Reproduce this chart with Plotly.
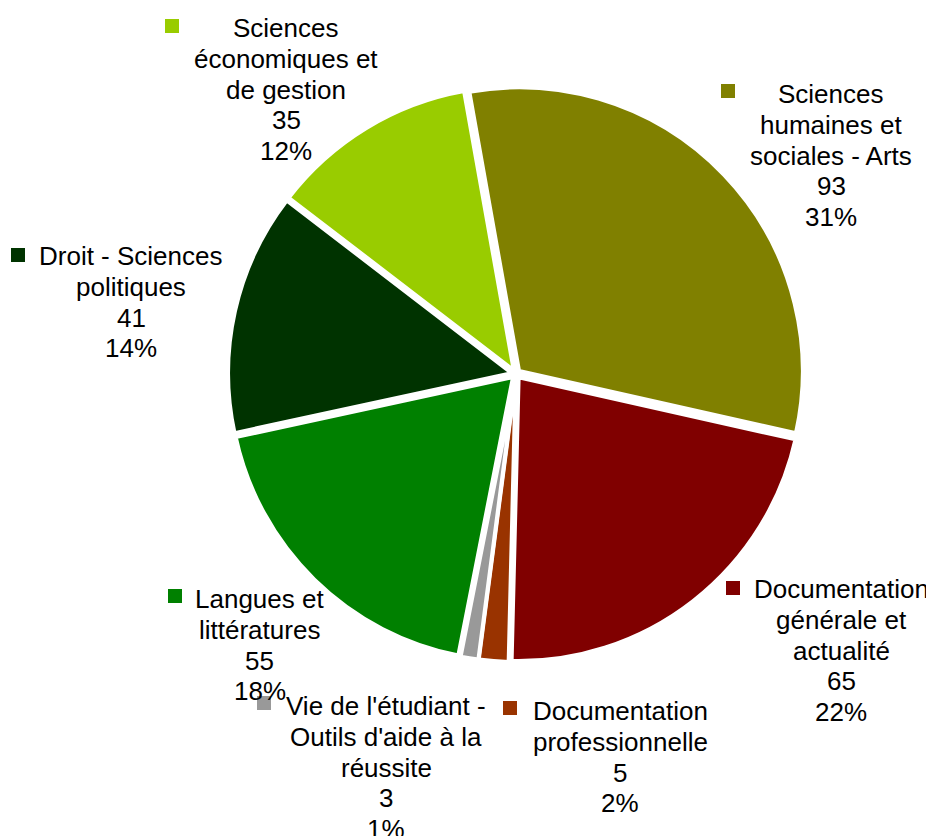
import plotly.graph_objects as go

# ---- data ----
categories = [
    "Sciences humaines et sociales - Arts",
    "Documentation générale et actualité",
    "Documentation professionnelle",
    "Vie de l'étudiant - Outils d'aide à la réussite",
    "Langues et littératures",
    "Droit - Sciences politiques",
    "Sciences économiques et de gestion",
]
values = [93, 65, 5, 3, 55, 41, 35]
pct_labels = ["31%", "22%", "2%", "1%", "18%", "14%", "12%"]

# ---- styling / layout ----
colors = ["#808000", "#800000", "#993300", "#999999", "#008000", "#003300", "#99CC00"]
wrapped = [
    ["Sciences", "humaines et", "sociales - Arts"],
    ["Documentation", "générale et", "actualité"],
    ["Documentation", "professionnelle"],
    ["Vie de l'étudiant -", "Outils d'aide à la", "réussite"],
    ["Langues et", "littératures"],
    ["Droit - Sciences", "politiques"],
    ["Sciences", "économiques et", "de gestion"],
]
# label block: (center x px, first line y px), legend key center (px) in window coords
label_pos = [(831, 94), (841, 589), (620, 711), (386, 706), (260, 599), (131, 256), (286, 28)]
key_pos = [(728, 91), (733, 588), (510, 708), (264, 703), (175, 596), (18, 255), (172, 26)]

W, H = 934, 836
OFF = 8  # page body margin
LINE = 30.8
FONT = dict(family="Liberation Sans, Arial, sans-serif", size=26, color="#000000")
KEY = 14


def px_x(x):
    return (x - OFF) / W


def px_y(y):
    return 1 - (y - OFF) / H


cx, cy, half = 516, 374, 288

fig = go.Figure(go.Pie(
    labels=categories,
    values=values,
    marker=dict(colors=colors, line=dict(color="white", width=4)),
    sort=False,
    direction="clockwise",
    rotation=-10.1,
    pull=[0.015] * len(values),
    textinfo="none",
    hoverinfo="label+value+percent",
    showlegend=False,
    domain=dict(x=[px_x(cx - half), px_x(cx + half)],
                y=[px_y(cy + half), px_y(cy - half)]),
))

annotations = []
shapes = []
for i, cat in enumerate(categories):
    lines = wrapped[i] + [str(values[i]), pct_labels[i]]
    x0, y0 = label_pos[i]
    for j, t in enumerate(lines):
        annotations.append(dict(
            x=px_x(x0), y=px_y(y0 + j * LINE), xref="paper", yref="paper",
            text=t, showarrow=False, xanchor="center", yanchor="middle",
            font=FONT,
        ))
    kx, ky = key_pos[i]
    shapes.append(dict(
        type="rect", xref="paper", yref="paper",
        x0=px_x(kx - KEY / 2), x1=px_x(kx + KEY / 2),
        y0=px_y(ky + KEY / 2), y1=px_y(ky - KEY / 2),
        fillcolor=colors[i], line=dict(width=0),
    ))

fig.update_layout(
    width=W, height=H,
    margin=dict(l=0, r=0, t=0, b=0),
    paper_bgcolor="white", plot_bgcolor="white",
    annotations=annotations, shapes=shapes,
)

fig.write_html("out.html")
